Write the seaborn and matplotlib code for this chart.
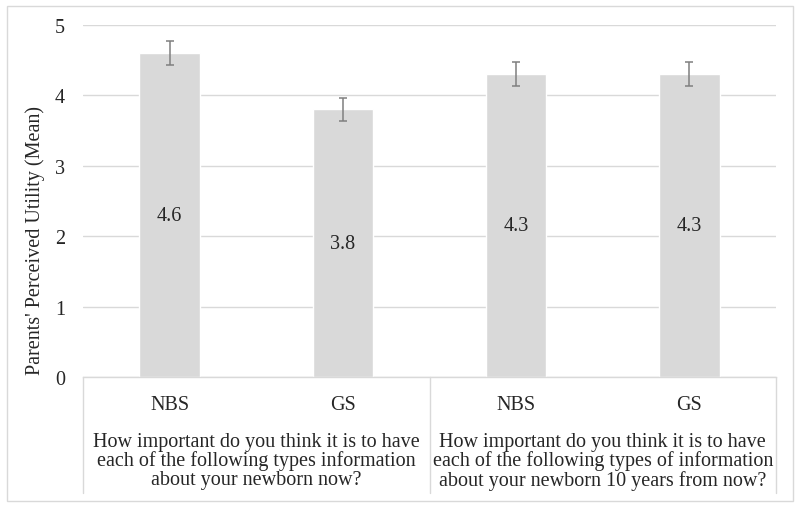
import pandas as pd
import matplotlib.pyplot as plt
import seaborn as sns
from matplotlib.patches import Rectangle

# ---------------- data ----------------
bar_keys = ['now_nbs', 'now_gs', 'later_nbs', 'later_gs']
tick_labels = ['NBS', 'GS', 'NBS', 'GS']
means = [4.6, 3.8, 4.3, 4.3]
errors = [0.17, 0.17, 0.17, 0.17]
group_labels = [
    'How important do you think it is to have\neach of the following types information\nabout your newborn now?',
    'How important do you think it is to have\neach of the following types of information\nabout your newborn 10 years from now?',
]

df = pd.DataFrame({'key': bar_keys, 'mean': means, 'err': errors})

# ---------------- style ----------------
sns.set_theme(style='white')
plt.rcParams['font.family'] = ['Liberation Serif', 'DejaVu Serif']
text_col = '#262626'
line_col = '#d9d9d9'
fs = 14.5

fig = plt.figure(figsize=(8, 5.1), dpi=100)
ax = fig.add_axes([83 / 800, 132 / 510, 693 / 800, 352 / 510])

sns.barplot(data=df, x='key', y='mean', order=bar_keys, color='#d9d9d9',
            width=0.35, errorbar=None, saturation=1, ax=ax)

# error bars on top of each bar
for patch, e in zip(ax.patches, df['err']):
    cx = patch.get_x() + patch.get_width() / 2
    ax.errorbar(cx, patch.get_height(), yerr=e, color='#7f7f7f', lw=1.1,
                capsize=3, capthick=1.1, zorder=3)

ax.bar_label(ax.containers[0], labels=[f'{v:.1f}' for v in df['mean']],
             label_type='center', fontsize=fs, color=text_col)

ax.set_ylim(0, 5)
ax.set_xlim(-0.5, 3.5)
ax.set_yticks(range(0, 6))
ax.yaxis.grid(True, color=line_col, lw=1)
ax.set_axisbelow(True)
for s in ['top', 'right', 'left']:
    ax.spines[s].set_visible(False)
ax.spines['bottom'].set_color(line_col)
ax.spines['bottom'].set_linewidth(1)

ax.set_xticks(range(len(tick_labels)))
ax.set_xticklabels(tick_labels)
ax.tick_params(axis='x', length=0, pad=13, labelsize=fs, labelcolor=text_col)
ax.tick_params(axis='y', length=0, pad=13, labelsize=fs, labelcolor=text_col)
ax.set_xlabel('')
ax.set_ylabel("Parents' Perceived Utility (Mean)", fontsize=fs, color=text_col)
ax.yaxis.set_label_coords(-48 / 693, 0.39)
ax.yaxis.label.set_va('center')

# category table below the axis
trans = ax.get_xaxis_transform()
for xv in [-0.5, 1.5, 3.5]:
    ax.plot([xv, xv], [0, -0.33], transform=trans, color=line_col, lw=1, clip_on=False)
for gx, lab in zip([0.5, 2.5], group_labels):
    ax.text(gx, -0.155, lab, transform=trans, ha='center', va='top',
            fontsize=fs, color=text_col, linespacing=0.98)

# outer chart border
fig.patches.append(Rectangle((7 / 800, 8 / 510), 786 / 800, 495 / 510,
                             transform=fig.transFigure, fill=False,
                             edgecolor=line_col, lw=1))

fig.savefig('out.png', dpi=100)
